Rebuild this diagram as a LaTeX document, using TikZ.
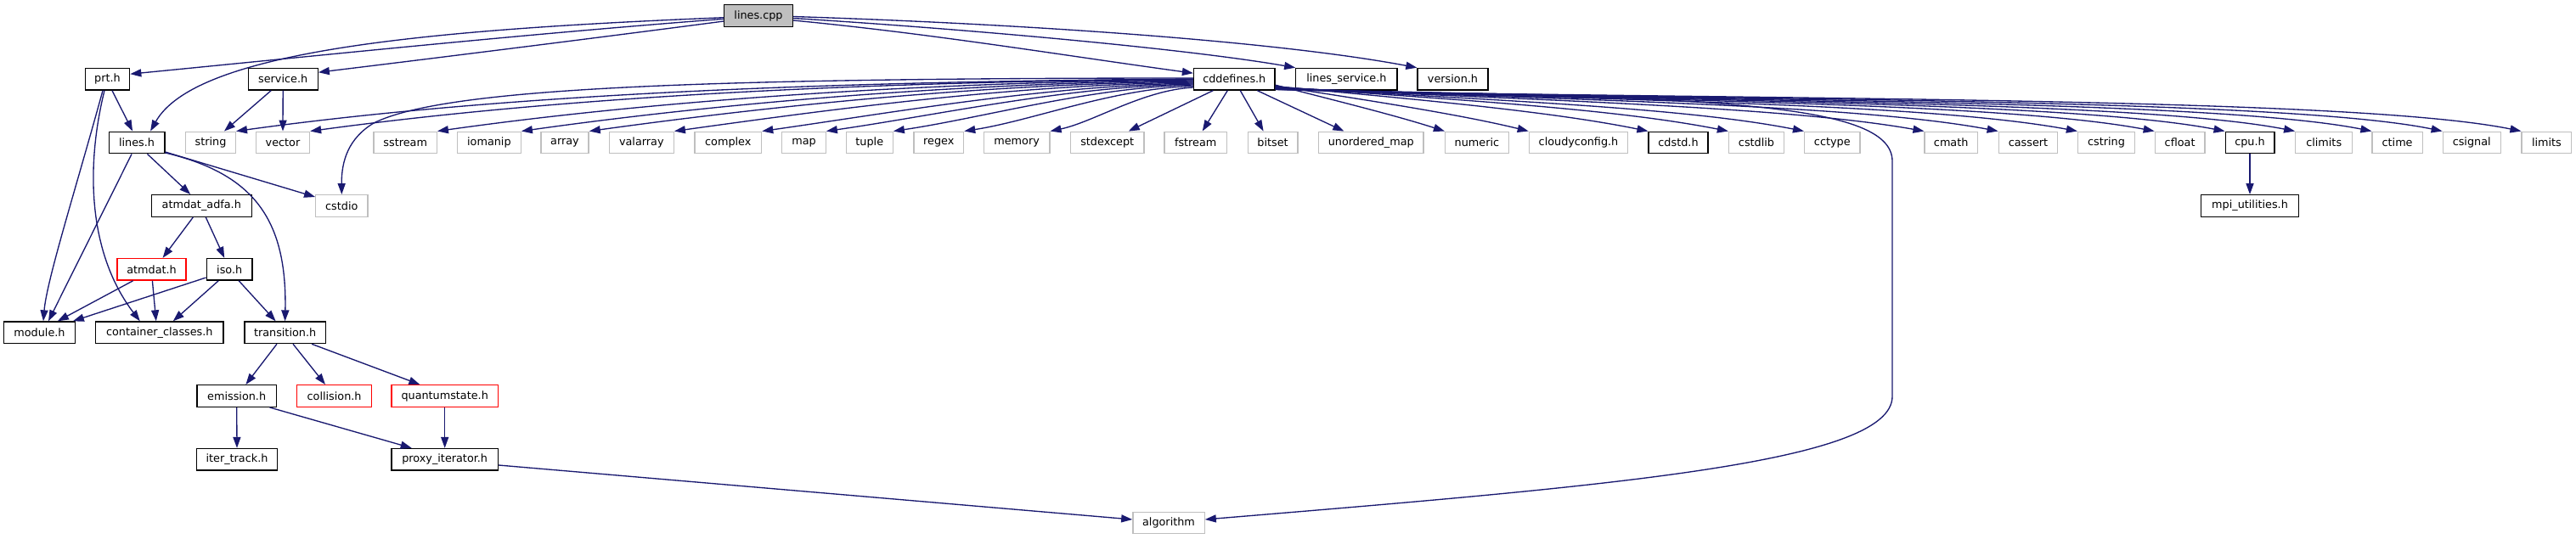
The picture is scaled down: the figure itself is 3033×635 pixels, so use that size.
\documentclass[tikz,border=0pt]{standalone}
\usepackage{fontspec}
\setmainfont{DejaVu Sans}
\usetikzlibrary{arrows.meta,calc}
\definecolor{edgec}{HTML}{191970}
\definecolor{gseventyfive}{HTML}{BFBFBF}
\begin{document}
\begin{tikzpicture}[x=0.75pt,y=-0.75pt,
  font=\fontsize{9.6pt}{11pt}\selectfont,
  nb/.style={draw=black, fill=white, line width=1pt, minimum height=19.2pt, inner sep=0pt, text=black},
  ng/.style={nb, draw=gseventyfive},
  nr/.style={nb, draw=red},
  w/.style={minimum width=#1*0.75pt},
  e/.style={draw=edgec, line width=1pt, -{Triangle[length=9.75pt,width=6.8pt]}}]
\fill[white] (0,0) rectangle (3033,635);
\useasboundingbox (0,0) rectangle (3033,635);
% row 0
\node[nb,fill=gseventyfive,w=80.5] (lc) at (893,18.5) {lines.cpp};
% row 1
\node[nb,w=52.4] (prt) at (126.5,93.2) {prt.h};
\node[nb,w=82] (serv) at (333.2,93.2) {service.h};
\node[nb,w=95.5] (cdd) at (1453.3,93.2) {cddefines.h};
\node[nb,w=119.2] (lsv) at (1585.4,93.2) {lines\_service.h};
\node[nb,w=83] (ver) at (1710.5,93.2) {version.h};
% row 2
\node[nb,w=65.5] (linesh) at (161.1,168) {lines.h};
\node[ng,w=58.7] (string) at (248,168) {string};
\node[ng,w=63] (vector) at (333,168) {vector};
\node[ng,w=74.2] (sstream) at (477.2,168) {sstream};
\node[ng,w=74.7] (iomanip) at (575.9,168) {iomanip};
\node[ng,w=56.2] (array) at (665,168) {array};
\node[ng,w=75.9] (valarray) at (755.3,168) {valarray};
\node[ng,w=78.6] (complex) at (857.3,168) {complex};
\node[ng,w=51.4] (map) at (946.5,168) {map};
\node[ng,w=54.8] (tuple) at (1023.8,168) {tuple};
\node[ng,w=58.6] (regex) at (1105.3,168) {regex};
\node[ng,w=77.6] (memory) at (1197.1,168) {memory};
\node[ng,w=86.3] (stdexcept) at (1303.7,168) {stdexcept};
\node[ng,w=73.3] (fstream) at (1407.7,168) {fstream};
\node[ng,w=58.5] (bitset) at (1498.6,168) {bitset};
\node[ng,w=123.6] (umap) at (1614.3,168) {unordered\_map};
\node[ng,w=74.7] (numeric) at (1738.9,168) {numeric};
\node[ng,w=116.3] (cloudy) at (1858.5,168) {cloudyconfig.h};
\node[nb,w=69.8] (cdstd) at (1976,168) {cdstd.h};
\node[ng,w=65] (cstdlib) at (2068,168) {cstdlib};
\node[ng,w=65.4] (cctype) at (2157.3,168) {cctype};
\node[ng,w=62.2] (cmath) at (2297.2,168) {cmath};
\node[ng,w=69.5] (cassert) at (2388,168) {cassert};
\node[ng,w=66.9] (cstring) at (2480,168) {cstring};
\node[ng,w=58.6] (cfloat) at (2566.6,168) {cfloat};
\node[nb,w=57.6] (cpu) at (2649,168) {cpu.h};
\node[ng,w=66.9] (climits) at (2736.2,168) {climits};
\node[ng,w=59.1] (ctime) at (2822.6,168) {ctime};
\node[ng,w=67.9] (csignal) at (2910.2,168) {csignal};
\node[ng,w=58.6] (limits) at (2998.4,168) {limits};
% row 3
\node[nb,w=117.8] (adfa) at (237.3,242.5) {atmdat\_adfa.h};
\node[ng,w=61.1] (cstdio) at (402.3,242.5) {cstdio};
\node[nb,w=114.6] (mpi) at (2649,242.5) {mpi\_utilities.h};
% row 4
\node[nr,w=81] (atmdat) at (178.6,317.3) {atmdat.h};
\node[nb,w=53.8] (iso) at (270.2,317.3) {iso.h};
% row 5
\node[nb,w=83.4] (module) at (46.5,391.8) {module.h};
\node[nb,w=150.7] (cont) at (187.8,391.8) {container\_classes.h};
\node[nb,w=95.5] (trans) at (335.6,391.8) {transition.h};
% row 6
\node[nb,w=93.1] (emis) at (278.7,466.5) {emission.h};
\node[nr,w=88.2] (coll) at (393.6,466.5) {collision.h};
\node[nr,w=125.5] (qs) at (523.7,466.5) {quantumstate.h};
% row 7
\node[nb,w=95.5] (iter) at (279,541.3) {iter\_track.h};
\node[nb,w=125.5] (proxy) at (523.7,541.3) {proxy\_iterator.h};
% row 8
\node[ng,w=84.3] (algo) at (1376,616) {algorithm};

% edges from lines.cpp
\draw[e] ($(lc.west)+(0,2.2)$) .. controls (500,35) and (230,60) .. ($(linesh.north)+(16,0)$);
\draw[e] ($(lc.west)+(0,3.8)$) .. controls (620,40) and (380,65) .. ($(prt.east)+(0,-6)$);
\draw[e] ($(lc.west)+(0,6.5)$) .. controls (700,45) and (500,70) .. ($(serv.east)+(0,-8)$);
\draw[e] ($(lc.east)+(0,5.5)$) .. controls (1100,40) and (1250,65) .. ($(cdd.west)+(0,-7)$);
\draw[e] ($(lc.east)+(0,3)$) .. controls (1150,35) and (1400,58) .. (lsv.north west);
\draw[e] ($(lc.east)+(0,1)$) .. controls (1200,28) and (1500,48) .. (ver.north west);
% prt.h
\draw[e] ($(prt.south)+(5.5,0)$) -- ($(linesh.north)+(-5,0)$);
\draw[e] ($(prt.south)+(-5.5,0)$) .. controls (90,220) and (55,330) .. ($(module.north)+(4.5,0)$);
\draw[e] ($(prt.south)+(-3.5,0)$) .. controls (100,200) and (105,300) .. ($(cont.north)+(-23,0)$);
% lines.h
\draw[e] ($(linesh.south)+(-6,0)$) -- ($(module.north)+(10.5,0)$);
\draw[e] ($(linesh.south)+(12.4,0)$) -- ($(adfa.north)+(-13,0)$);
\draw[e] ($(linesh.east)+(0,11)$) -- ($(cstdio.west)+(0,-10.5)$);
\draw[e] ($(linesh.east)+(0,12)$) .. controls (300,205) and (338,260) .. (trans.north);
% service.h
\draw[e] ($(serv.south)+(-14,0)$) -- ($(string.north)+(16,0)$);
\draw[e] (serv.south) -- (vector.north);
% atmdat_adfa.h
\draw[e] ($(adfa.south)+(-10,0)$) -- ($(atmdat.north)+(13,0)$);
\draw[e] ($(adfa.south)+(5,0)$) -- ($(iso.north)+(-6,0)$);
% atmdat.h
\draw[e] ($(atmdat.south)+(-22,0)$) -- ($(module.north)+(21.4,0)$);
\draw[e] ($(atmdat.south)+(0.8,0)$) -- ($(cont.north)+(-4,0)$);
% iso.h
\draw[e] ($(iso.west)+(0,9.7)$) -- ($(module.north east)+(-3,0)$);
\draw[e] ($(iso.south)+(-13,0)$) -- ($(cont.north)+(16,0)$);
\draw[e] ($(iso.south)+(11,0)$) -- ($(trans.north)+(-11,0)$);
% transition.h
\draw[e] ($(trans.south)+(-9.6,0)$) -- ($(emis.north)+(10.7,0)$);
\draw[e] ($(trans.south)+(9.4,0)$) -- ($(coll.north)+(-10.6,0)$);
\draw[e] ($(trans.south)+(31.4,0)$) -- ($(qs.north)+(-29.3,0)$);
% emission.h, quantumstate.h, proxy_iterator.h, cpu.h
\draw[e] (emis.south) -- (iter.north);
\draw[e] ($(emis.south)+(38.8,0)$) -- ($(proxy.north)+(-39,0)$);
\draw[e] (qs.south) -- (proxy.north);
\draw[e] ($(proxy.east)+(0,6.7)$) -- ($(algo.west)+(0,-4)$);
\draw[e] (cpu.south) -- (mpi.north);
% cddefines.h to the left
\draw[e] ($(cdd.west)+(0,-1.2)$) .. controls (800,92) and (520,105) .. (440,145) .. controls (410,163) and (402,190) .. (cstdio.north);
\draw[e] ($(cdd.west)+(0,-0.2)$) .. controls (1010,96) and (615,108) .. (string.north east);
\draw[e] ($(cdd.west)+(0,0.3)$) .. controls (1040,96) and (677,112) .. (vector.north east);
\draw[e] ($(cdd.west)+(0,0.8)$) .. controls (1094,97) and (781,117) .. (sstream.north east);
\draw[e] ($(cdd.west)+(0,1.8)$) .. controls (1128,98) and (851,121) .. (iomanip.north east);
\draw[e] ($(cdd.west)+(0,2.8)$) .. controls (1156,99) and (907,125) .. (array.north east);
\draw[e] ($(cdd.west)+(0,3.8)$) .. controls (1191,100) and (977,129) .. (valarray.north east);
\draw[e] ($(cdd.west)+(0,4.8)$) .. controls (1227,101) and (1049,133) .. (complex.north east);
\draw[e] ($(cdd.west)+(0,5.8)$) .. controls (1254,102) and (1102,136) .. (map.north east);
\draw[e] ($(cdd.west)+(0,6.8)$) .. controls (1282,103) and (1157,139) .. (tuple.north east);
\draw[e] ($(cdd.west)+(0,8.3)$) .. controls (1311,104) and (1216,142) .. (regex.north east);
\draw[e] ($(cdd.west)+(0,9.8)$) .. controls (1346,106) and (1287,144) .. (memory.north east);
\draw[e] ($(cdd.south)+(-25,0)$) -- ($(stdexcept.north)+(25,0)$);
\draw[e] ($(cdd.south)+(-8,0)$) -- ($(fstream.north)+(8,0)$);
\draw[e] ($(cdd.south)+(7,0)$) -- ($(bitset.north)+(-11,0)$);
\draw[e] ($(cdd.south)+(27,0)$) -- ($(umap.north)+(-32,0)$);
% cddefines.h to the right
\draw[e] ($(cdd.east)+(0,7)$) .. controls (1570,118) and (1640,135) .. (numeric.north west);
\draw[e] ($(cdd.east)+(0,8)$) .. controls (1610,118) and (1720,135) .. (cloudy.north west);
\draw[e] ($(cdd.east)+(0,8.5)$) .. controls (1680,118) and (1830,132) .. (cdstd.north west);
\draw[e] ($(cdd.east)+(0,9)$) .. controls (1720,118) and (1900,128) .. (cstdlib.north west);
\draw[e] ($(cdd.east)+(0,9.5)$) .. controls (1750,118) and (1980,126) .. (cctype.north west);
\draw[e] ($(cdd.east)+(0,10)$) .. controls (1800,118) and (2100,125) .. (cmath.north west);
\draw[e] ($(cdd.east)+(0,10.3)$) .. controls (1830,118) and (2180,122) .. (cassert.north west);
\draw[e] ($(cdd.east)+(0,10.6)$) .. controls (1860,118) and (2260,120) .. (cstring.north west);
\draw[e] ($(cdd.east)+(0,11)$) .. controls (1880,118) and (2350,119) .. (cfloat.north west);
\draw[e] ($(cdd.east)+(0,11.3)$) .. controls (1900,118) and (2430,118) .. (cpu.north west);
\draw[e] ($(cdd.east)+(0,11.6)$) .. controls (1920,118) and (2510,117) .. (climits.north west);
\draw[e] ($(cdd.east)+(0,11.9)$) .. controls (1950,118) and (2600,116) .. (ctime.north west);
\draw[e] ($(cdd.east)+(0,12.1)$) .. controls (1970,118) and (2680,114) .. (csignal.north west);
\draw[e] ($(cdd.east)+(0,12.3)$) .. controls (2000,118) and (2760,112) .. (limits.north west);
\draw[e] ($(cdd.east)+(0,12)$) .. controls (2000,115) and (2228,118) .. (2228,190) -- (2228,467) .. controls (2228,545) and (1900,572) .. ($(algo.east)+(0,-4)$);
\end{tikzpicture}
\end{document}
